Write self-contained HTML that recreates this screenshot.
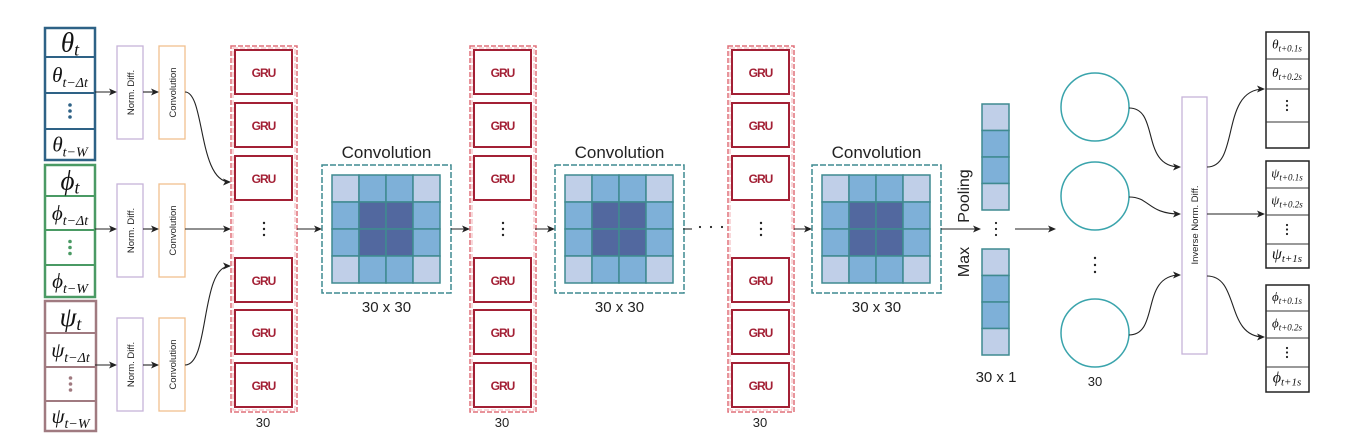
<!DOCTYPE html>
<html><head><meta charset="utf-8"><style>
html,body{margin:0;padding:0;background:#fff;}
svg{display:block;font-family:"Liberation Sans","DejaVu Sans",sans-serif;}
.m{font-family:"Liberation Serif","DejaVu Serif",serif;font-style:italic;}
</style></head><body>
<svg id="s" width="1356" height="445" viewBox="0 0 1356 445" xmlns="http://www.w3.org/2000/svg">
<defs><marker id="ar" markerWidth="8" markerHeight="8" refX="7" refY="4" orient="auto" markerUnits="userSpaceOnUse"><path d="M0,0.5 L8,4 L0,7.5 L2,4 z" fill="#222"/></marker></defs>
<g id="root"></g>
</svg>
<script>
const root=document.getElementById('root');
const NS='http://www.w3.org/2000/svg';
function mk(tag,attrs,txt,parent){const e=document.createElementNS(NS,tag);for(const k in attrs)e.setAttribute(k,attrs[k]);if(txt!==undefined)e.textContent=txt;(parent||root).appendChild(e);return e;}
function arrow(d){const e=mk('path',{d:d,fill:'none',stroke:'#222','stroke-width':1.1,'marker-end':'url(#ar)'});

return e;}

// input groups
const groups=[
 {sym:'θ',col:'#2e6286',y:28,rows:[28,57,93,129,160],dot:'#2e6286',x:45,w:50},
 {sym:'ϕ',col:'#4a9a64',y:165,rows:[165,196,230,265,297],dot:'#4a9a64',x:45,w:50},
 {sym:'ψ',col:'#a07a80',y:301,rows:[301,333,367,401,431],dot:'#a07a80',x:45,w:51}];
const subs=['t','t−Δt','','t−W'];
groups.forEach((g,gi)=>{
 const r=g.rows;
 const b=mk('rect',{x:g.x,y:r[0],width:g.w,height:r[4]-r[0],fill:'#fff',stroke:g.col,'stroke-width':2.5});
 
 
 for(let i=1;i<4;i++)mk('line',{x1:g.x,x2:g.x+g.w,y1:r[i],y2:r[i],stroke:g.col,'stroke-width':2});
 for(let i=0;i<4;i++){
  const cy=(r[i]+r[i+1])/2;
  if(i===2){for(let k=-1;k<=1;k++)mk('circle',{cx:g.x+g.w/2,cy:cy+k*6,r:1.8,fill:g.dot});continue;}
  const t=mk('text',{x:g.x+g.w/2,y:cy+(i===0?9:7),'text-anchor':'middle','font-size':i===0?27:21,class:'m',fill:'#111'});
  
  
  t.textContent=g.sym;
  mk('tspan',{'font-size':i===0?18:14,dy:i===0?4:5},subs[i],t);
 }
 const ay=[92,229,365][gi];
 const ny=[[46,139],[184,277],[318,411]][gi];
 const nd=mk('rect',{x:117,y:ny[0],width:26,height:ny[1]-ny[0],fill:'#fff',stroke:'#c7b3d9','stroke-width':1.3});
 
 
 const cv=mk('rect',{x:159,y:ny[0],width:26,height:ny[1]-ny[0],fill:'#fff',stroke:'#f0c08e','stroke-width':1.3});
 
 
 const cyy=(ny[0]+ny[1])/2;
 mk('text',{x:0,y:0,transform:`translate(134,${cyy}) rotate(-90)`,'text-anchor':'middle','font-size':9.5,fill:'#222'},'Norm. Diff.');
 mk('text',{x:0,y:0,transform:`translate(176,${cyy}) rotate(-90)`,'text-anchor':'middle','font-size':9.5,fill:'#222'},'Convolution');
 arrow(`M95,${ay} L116,${ay}`);
 arrow(`M143,${ay} L158,${ay}`);
});
arrow('M185,92 C205,92 198,182 230,182');
arrow('M185,229 L230,229');
arrow('M185,365 C210,365 200,266 230,266');

// GRU columns
const gruCols=[231,470,728];
const gruRows=[50,103,156,258,310,363];
gruCols.forEach((x,ci)=>{
 const c=mk('rect',{x:x,y:46,width:66,height:366,fill:'none',stroke:'#e0707a','stroke-width':1.5,'stroke-dasharray':'5,2'});
 
 
 mk('rect',{x:x+2,y:48,width:62,height:362,fill:'none',stroke:'#f2b0b6','stroke-width':1,'stroke-dasharray':'5,2'});
 gruRows.forEach(y=>{
  const r=mk('rect',{x:x+4,y:y,width:57,height:44,fill:'#fff',stroke:'#a32035','stroke-width':2});
  
  
  mk('text',{x:x+32.5,y:y+27,'text-anchor':'middle','font-size':12,'font-weight':'bold',fill:'#a32035','letter-spacing':'-1'},'GRU');
 });
 for(let k=-1;k<=1;k++)mk('circle',{cx:x+33,cy:229+k*6,r:1.2,fill:'#222'});
 mk('text',{x:x+32,y:427,'text-anchor':'middle','font-size':13,fill:'#222'},'30');
});

// conv blocks
const convX=[322,555,812];
const shade=[[0,1,1,0],[1,2,2,1],[1,2,2,1],[0,1,1,0]];
const cols=['#c0cfe8','#7eb0d8','#52689f'];
convX.forEach((x,bi)=>{
 const b=mk('rect',{x:x,y:165,width:129,height:128,fill:'#fff',stroke:'#3f8a90','stroke-width':1.5,'stroke-dasharray':'6,2'});
 
 
 for(let i=0;i<4;i++)for(let j=0;j<4;j++){
  const c=mk('rect',{x:x+10+j*27,y:175+i*27,width:27,height:27,fill:cols[shade[i][j]],stroke:'#3f8a90','stroke-width':1.5});
 }
 mk('text',{x:x+64.5,y:158,'text-anchor':'middle','font-size':17,fill:'#222'},'Convolution');
 mk('text',{x:x+64.5,y:312,'text-anchor':'middle','font-size':15,fill:'#222'},'30 x 30');
});
arrow('M297,229 L321,229');
arrow('M451,229 L469,229');
arrow('M535,229 L554,229');
arrow('M794,229 L811,229');
mk('line',{x1:683,y1:229,x2:692,y2:229,stroke:'#222','stroke-width':1.1});
for(let k=0;k<3;k++)mk('circle',{cx:700+k*11,cy:227,r:1.1,fill:'#222'});

// max pooling
arrow('M941,229 L980,229');
mk('text',{x:0,y:0,transform:'translate(969,196) rotate(-90)','text-anchor':'middle','font-size':16,fill:'#222'},'Pooling');
mk('text',{x:0,y:0,transform:'translate(969,262) rotate(-90)','text-anchor':'middle','font-size':16,fill:'#222'},'Max');
const poolShade=[0,1,1,0];
[104,249].forEach(y0=>{
 poolShade.forEach((s,i)=>{
  const c=mk('rect',{x:982,y:y0+i*26.5,width:27,height:26.5,fill:cols[s],stroke:'#3f8a90','stroke-width':1.5});
  
  
 });
});
for(let k=-1;k<=1;k++)mk('circle',{cx:996,cy:229+k*6,r:1.1,fill:'#222'});
mk('text',{x:996,y:382,'text-anchor':'middle','font-size':15,fill:'#222'},'30 x 1');
arrow('M1015,229 L1055,229');

// dense neurons
[107,196,333].forEach(cy=>{
 const c=mk('circle',{cx:1095,cy:cy,r:34,fill:'#fff',stroke:'#3aa4ac','stroke-width':1.5});
 
 
});
for(let k=-1;k<=1;k++)mk('circle',{cx:1095,cy:265+k*7,r:1.2,fill:'#222'});
mk('text',{x:1095,y:386,'text-anchor':'middle','font-size':13,fill:'#222'},'30');
arrow('M1129,108 C1160,108 1140,167 1180,167');
arrow('M1129,197 C1150,197 1148,214 1180,214');
arrow('M1129,335 C1160,335 1140,275 1180,275');

const inv=mk('rect',{x:1182,y:97,width:25,height:257,fill:'#fff',stroke:'#c7b3d9','stroke-width':1.3});


mk('text',{x:0,y:0,transform:'translate(1198,225) rotate(-90)','text-anchor':'middle','font-size':9.5,fill:'#222'},'Inverse Norm. Diff.');
arrow('M1207,167 C1240,167 1220,89 1264,89');
arrow('M1207,214 L1264,214');
arrow('M1207,276 C1240,276 1225,337 1264,337');

// outputs
const outs=[
 {rows:[32,59,89,122,148],labels:[['θ','t+0.1s'],['θ','t+0.2s'],null,null]},
 {rows:[161,188,215,244,268],labels:[['ψ','t+0.1s'],['ψ','t+0.2s'],null,['ψ','t+1s']]},
 {rows:[285,311,338,367,392],labels:[['ϕ','t+0.1s'],['ϕ','t+0.2s'],null,['ϕ','t+1s']]}];
outs.forEach((o,oi)=>{
 const r=o.rows;
 const b=mk('rect',{x:1266,y:r[0],width:43,height:r[4]-r[0],fill:'#fff',stroke:'#222','stroke-width':1.5});
 
 
 for(let i=1;i<4;i++)mk('line',{x1:1266,x2:1309,y1:r[i],y2:r[i],stroke:'#333','stroke-width':1});
 for(let i=0;i<4;i++){
  const cy=(r[i]+r[i+1])/2;
  if(i===2){for(let k=-1;k<=1;k++)mk('circle',{cx:1287,cy:cy+k*4.5,r:1.1,fill:'#222'});continue;}
  const L=o.labels[i]; if(!L)continue;
  const t=mk('text',{x:1287,y:cy+3,'text-anchor':'middle','font-size':i===3?16:13,class:'m',fill:'#111'});
  
  
  t.textContent=L[0];
  mk('tspan',{'font-size':i===3?11:9,dy:3},L[1],t);
 }
});
</script>
</body></html>
